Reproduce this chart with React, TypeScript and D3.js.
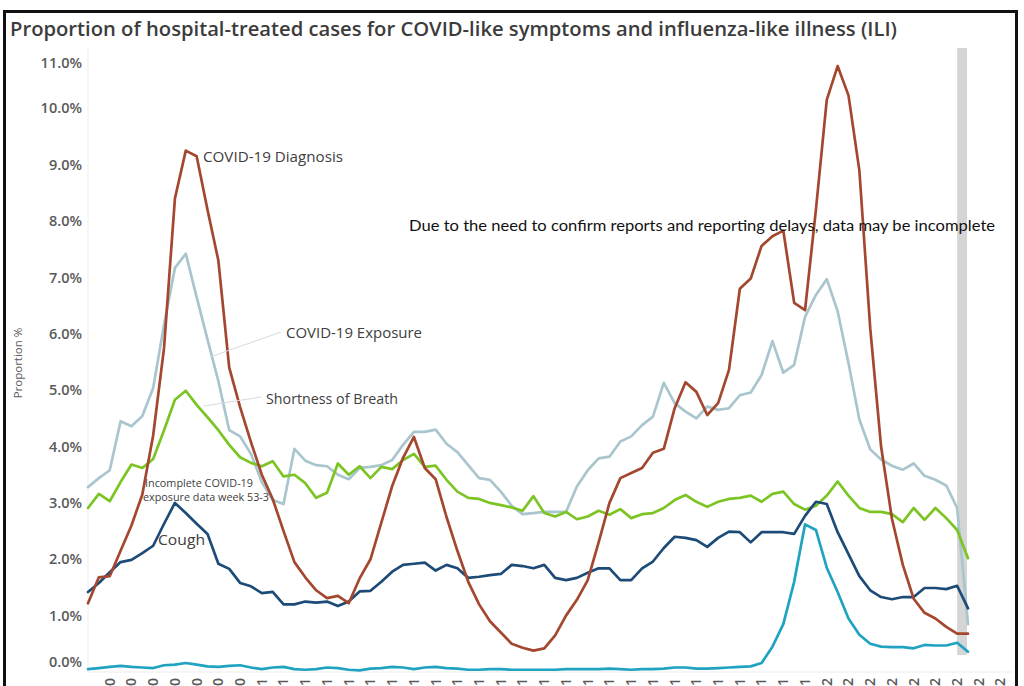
import React from 'react';
import * as d3 from 'd3';

// Fortnightly category labels (week ending), only the year tail shows under the frame
const xTickLabels = [
  '27/09/2020', '11/10/2020', '25/10/2020', '08/11/2020', '22/11/2020', '06/12/2020', '20/12/2020',
  '03/01/2021', '17/01/2021', '31/01/2021', '14/02/2021', '28/02/2021', '14/03/2021', '28/03/2021',
  '11/04/2021', '25/04/2021', '09/05/2021', '23/05/2021', '06/06/2021', '20/06/2021', '04/07/2021',
  '18/07/2021', '01/08/2021', '15/08/2021', '29/08/2021', '12/09/2021', '26/09/2021', '10/10/2021',
  '24/10/2021', '07/11/2021', '21/11/2021', '05/12/2021', '19/12/2021',
  '02/01/2022', '16/01/2022', '30/01/2022', '13/02/2022', '27/02/2022', '13/03/2022', '27/03/2022',
  '10/04/2022', '24/04/2022',
];

// Weekly proportions (%)
const diagnosis = [
  1.22, 1.68, 1.70, 2.15, 2.6, 3.15, 4.2, 5.75, 8.4, 9.25,
  9.15, 8.2, 7.3, 5.4, 4.7, 4.08, 3.5, 3.07, 2.5, 1.95,
  1.68, 1.45, 1.31, 1.35, 1.22, 1.66, 2.0, 2.65, 3.3, 3.8,
  4.17, 3.62, 3.42, 2.75, 2.15, 1.6, 1.2, 0.9, 0.7, 0.5,
  0.43, 0.38, 0.42, 0.65, 1.0, 1.28, 1.63, 2.3, 3.0, 3.44,
  3.53, 3.62, 3.89, 3.96, 4.68, 5.14, 4.97, 4.56, 4.77, 5.36,
  6.8, 6.98, 7.56, 7.73, 7.83, 6.55, 6.42, 8.2, 10.15, 10.75,
  10.23, 8.9, 6.1, 4.0, 2.72, 1.9, 1.3, 1.05, 0.95, 0.8,
  0.68, 0.68,
];

const exposure = [
  3.28, 3.44, 3.58, 4.45, 4.36, 4.54, 5.04, 6.16, 7.17, 7.42,
  6.65, 5.9, 5.16, 4.29, 4.18, 3.87, 3.37, 3.05, 2.98, 3.96,
  3.75, 3.67, 3.65, 3.5, 3.42, 3.62, 3.64, 3.67, 3.76, 4.03,
  4.26, 4.26, 4.3, 4.05, 3.9, 3.67, 3.44, 3.41, 3.2, 2.95,
  2.8, 2.82, 2.84, 2.84, 2.84, 3.29, 3.58, 3.79, 3.82, 4.09,
  4.18, 4.38, 4.53, 5.13, 4.77, 4.62, 4.5, 4.71, 4.65, 4.68,
  4.91, 4.96, 5.27, 5.87, 5.31, 5.45, 6.3, 6.69, 6.97, 6.4,
  5.48, 4.48, 3.95, 3.77, 3.66, 3.59, 3.7, 3.48, 3.41, 3.31,
  2.91, 0.85,
];

const breath = [
  2.91, 3.16, 3.03, 3.37, 3.68, 3.62, 3.78, 4.29, 4.83, 4.99,
  4.74, 4.52, 4.29, 4.03, 3.81, 3.71, 3.65, 3.74, 3.47, 3.5,
  3.35, 3.09, 3.18, 3.7, 3.5, 3.65, 3.44, 3.64, 3.6, 3.76,
  3.87, 3.64, 3.66, 3.41, 3.2, 3.09, 3.07, 3.0, 2.96, 2.92,
  2.86, 3.12, 2.82, 2.76, 2.84, 2.71, 2.76, 2.86, 2.79, 2.89,
  2.73, 2.8, 2.82, 2.91, 3.05, 3.14, 3.02, 2.93, 3.02, 3.07,
  3.09, 3.13, 3.02, 3.16, 3.2, 2.98, 2.88, 2.95, 3.13, 3.38,
  3.13, 2.91, 2.84, 2.84, 2.8, 2.66, 2.91, 2.7, 2.91, 2.73,
  2.52, 2.02,
];

const cough = [
  1.42, 1.58, 1.77, 1.95, 1.99, 2.11, 2.24, 2.63, 3.0, 2.82,
  2.63, 2.45, 1.92, 1.83, 1.58, 1.52, 1.4, 1.42, 1.2, 1.2,
  1.25, 1.23, 1.25, 1.17, 1.25, 1.43, 1.44, 1.6, 1.78, 1.9,
  1.92, 1.94, 1.8, 1.9, 1.84, 1.67, 1.69, 1.72, 1.74, 1.9,
  1.88, 1.84, 1.9, 1.67, 1.63, 1.67, 1.76, 1.84, 1.84, 1.63,
  1.63, 1.84, 1.96, 2.2, 2.4, 2.38, 2.34, 2.22, 2.38, 2.49,
  2.48, 2.3, 2.48, 2.48, 2.48, 2.45, 2.77, 3.02, 2.98, 2.48,
  2.09, 1.7, 1.45, 1.33, 1.29, 1.33, 1.33, 1.49, 1.49, 1.47,
  1.53, 1.13,
];

const ili = [
  0.05, 0.07, 0.09, 0.11, 0.09, 0.08, 0.07, 0.12, 0.13, 0.16,
  0.13, 0.1, 0.09, 0.11, 0.12, 0.08, 0.05, 0.08, 0.09, 0.05,
  0.04, 0.05, 0.08, 0.07, 0.04, 0.03, 0.06, 0.07, 0.09, 0.08,
  0.05, 0.08, 0.09, 0.07, 0.06, 0.04, 0.04, 0.05, 0.05, 0.04,
  0.04, 0.04, 0.04, 0.04, 0.05, 0.05, 0.05, 0.05, 0.06, 0.05,
  0.04, 0.05, 0.05, 0.06, 0.08, 0.08, 0.06, 0.06, 0.07, 0.08,
  0.09, 0.1, 0.16, 0.45, 0.85, 1.6, 2.62, 2.52, 1.85, 1.42,
  0.95, 0.66, 0.5, 0.45, 0.44, 0.44, 0.42, 0.48, 0.47, 0.47,
  0.52, 0.36,
];

const yTickValues = [0, 1, 2, 3, 4, 5, 6, 7, 8, 9, 10, 11];

// Weeks whose reporting is still incomplete (shaded)
const incompleteWeeks = [80];

const series = [
  { name: 'exposure', values: exposure, color: '#a9c5cd' },
  { name: 'breath', values: breath, color: '#7cc424' },
  { name: 'ili', values: ili, color: '#1fa3c1' },
  { name: 'cough', values: cough, color: '#1d4b78' },
  { name: 'diagnosis', values: diagnosis, color: '#a4472f' },
];

const W = 1024;
const H = 686;
const M = { left: 88, right: 968, top: 52, bottom: 672 };
const FONT = "'Open Sans', 'Liberation Sans', sans-serif";

export default function App() {
  const n = diagnosis.length;
  const x = d3.scaleLinear().domain([0, n - 1]).range([M.left, M.right]);
  const y = d3.scaleLinear().domain([0, 11]).range([M.bottom, M.top]);
  const line = d3
    .line<number>()
    .x((_, i) => x(i))
    .y((d) => y(d));

  const fmt = d3.format('.1f');
  const step = x(1) - x(0);

  return (
    <svg
      width={W}
      height={H}
      style={{ position: 'absolute', left: 0, top: 0, background: '#fff' }}
      fontFamily={FONT}
    >
      <rect x={0} y={0} width={W} height={H} fill="#fff" />
      {/* outer frame */}
      <rect x={4.5} y={11.5} width={1012} height={720} fill="none" stroke="#111" strokeWidth={3} />

      <text x={10} y={36} fontSize={19.5} fontWeight={600} fill="#3c3c3c" textLength={887} lengthAdjust="spacingAndGlyphs">
        Proportion of hospital-treated cases for COVID-like symptoms and influenza-like illness (ILI)
      </text>

      {/* plot frame hairlines */}
      <line x1={M.left} x2={M.left} y1={48} y2={M.bottom} stroke="#efefef" strokeWidth={1} />
      <line x1={M.left} x2={1012} y1={M.bottom} y2={M.bottom} stroke="#ececec" strokeWidth={1} />

      {/* incomplete-data band */}
      {incompleteWeeks.map((w) => (
        <rect key={w} x={x(w)} y={48} width={step - 1} height={607} fill="#d5d5d5" />
      ))}

      {/* y axis */}
      {yTickValues.map((v) => (
        <text
          key={v}
          x={82}
          y={Math.min(Math.max(y(v), 63), 662)}
          dy="0.35em"
          textAnchor="end"
          fontSize={14.5}
          fontWeight={600}
          fill="#5a5a5a"
        >
          {fmt(v)}%
        </text>
      ))}
      <text transform="translate(22,363) rotate(-90)" textAnchor="middle" fontSize={11.5} fill="#595959">
        Proportion %
      </text>

      {/* x axis labels */}
      {xTickLabels.map((t, i) => (
        <text
          key={t}
          transform={`translate(${x(2 * i + 2)},678) rotate(-90)`}
          dy="0.35em"
          textAnchor="end"
          fontSize={14}
          fontWeight={600}
          fill="#595959"
        >
          {t}
        </text>
      ))}

      {/* series */}
      {series.map((s) => (
        <path
          key={s.name}
          d={line(s.values) || ''}
          fill="none"
          stroke={s.color}
          strokeWidth={2.7}
          strokeLinejoin="round"
          strokeLinecap="round"
        />
      ))}

      {/* series labels */}
      <g fontSize={14.5} fill="#404040">
        <text x={203} y={162} textLength={140} lengthAdjust="spacingAndGlyphs">COVID-19 Diagnosis</text>
        <line x1={210} y1={357} x2={281} y2={332} stroke="#d9d9d9" strokeWidth={1} />
        <text x={286} y={338} textLength={136} lengthAdjust="spacingAndGlyphs">COVID-19 Exposure</text>
        <line x1={204} y1={406} x2={261} y2={397} stroke="#d9d9d9" strokeWidth={1} />
        <text x={266} y={404} textLength={132} lengthAdjust="spacingAndGlyphs">Shortness of Breath</text>
        <text x={158} y={545} fontSize={15} textLength={47} lengthAdjust="spacingAndGlyphs">Cough</text>
        <text x={145} y={487} fontSize={10.5} textLength={108} lengthAdjust="spacingAndGlyphs">Incomplete COVID-19</text>
        <text x={143} y={501} fontSize={10.5} textLength={126} lengthAdjust="spacingAndGlyphs">exposure data week 53-3</text>
      </g>

      <text x={409} y={231} fontSize={14.5} fill="#111" fontFamily="Lato, 'Open Sans', sans-serif" textLength={586} lengthAdjust="spacingAndGlyphs">
        Due to the need to confirm reports and reporting delays, data may be incomplete
      </text>
    </svg>
  );
}
